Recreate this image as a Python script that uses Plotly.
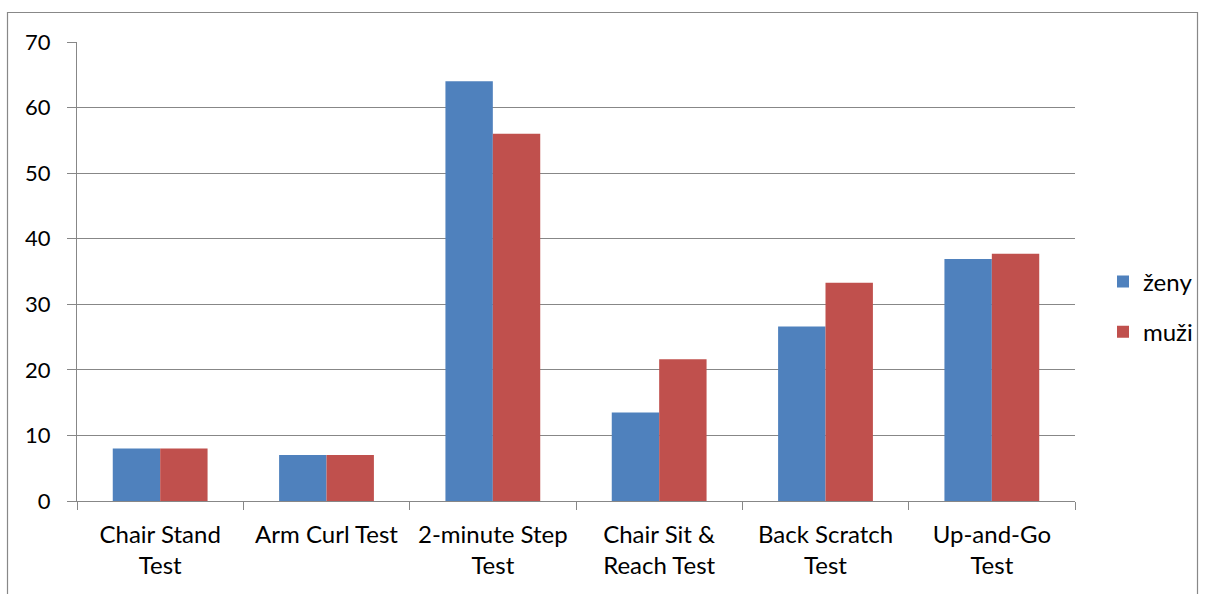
import plotly.graph_objects as go

categories = ["Chair Stand<br>Test", "Arm Curl Test", "2-minute Step<br>Test",
              "Chair Sit &<br>Reach Test", "Back Scratch<br>Test", "Up-and-Go<br>Test"]
zeny = [8, 7, 64, 13.5, 26.6, 36.9]
muzi = [8, 7, 56, 21.6, 33.3, 37.7]
y_ticks = [0, 10, 20, 30, 40, 50, 60, 70]

W, H = 1206, 594
L, R, T, B = 77, 1075, 42, 501
paper_w = W - L          # right margin 0, x-domain limited instead
ph = B - T

font_family = "Lato, 'Open Sans', sans-serif"
grid_col = "#878787"

fig = go.Figure()
fig.add_trace(go.Bar(x=categories, y=zeny, name="ženy", marker_color="#4F81BD",
                     marker_line=dict(width=0), legendgroup="a"))
fig.add_trace(go.Bar(x=categories, y=muzi, name="muži", marker_color="#C0504D",
                     marker_line=dict(width=0), legendgroup="b"))

def px_x(x):
    return (x - L) / paper_w

def px_y(y):
    return (B - y) / ph

fig.update_layout(
    width=W, height=H,
    margin=dict(l=L, r=0, t=T, b=H - B, autoexpand=False),
    paper_bgcolor="white", plot_bgcolor="white",
    barmode="group", bargap=0.43, bargroupgap=0,
    font=dict(family=font_family, size=22, color="#000000"),
    xaxis=dict(type="category", domain=[0, px_x(R)], tickson="boundaries",
               ticks="outside", ticklen=8,
               tickcolor=grid_col, showline=True, linecolor=grid_col, linewidth=1,
               showgrid=False, range=[-0.5, 5.5], tickfont=dict(size=24),
               ticklabelstandoff=12),
    yaxis=dict(range=[0, 70], tickvals=y_ticks, ticks="outside", ticklen=9,
               tickcolor=grid_col, showline=True, linecolor=grid_col, linewidth=1,
               showgrid=True, gridcolor=grid_col, gridwidth=1, zeroline=False,
               tickfont=dict(size=22), ticklabelstandoff=12),
    legend=dict(x=px_x(1103), y=px_y(307), xanchor="left", yanchor="middle",
                font=dict(size=24), tracegroupgap=16, itemwidth=30,
                bgcolor="rgba(0,0,0,0)"),
    shapes=[dict(type="rect", xref="paper", yref="paper",
                 x0=px_x(7.5), x1=px_x(1197.5), y0=px_y(640), y1=px_y(12.5),
                 line=dict(color="#888888", width=1.2), layer="below")],
)

fig.write_html(
    "out.html",
    config={"displayModeBar": False},
    post_script=("document.documentElement.style.margin='0';"
                 "document.body.style.margin='0';"
                 "document.documentElement.style.overflow='hidden';"
                 "document.body.style.overflow='hidden';"),
)
